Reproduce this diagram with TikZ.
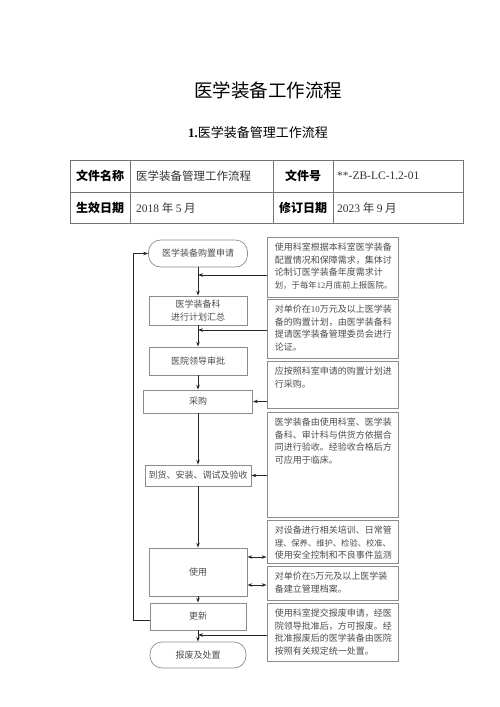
\documentclass[tikz,border=0pt]{standalone}
\usepackage{xcolor}
\usepackage{fontspec}
\usepackage{amsmath}
\setmainfont{Liberation Serif}
\newfontfamily\cjk{Noto Sans CJK SC}
\usetikzlibrary{arrows.meta,positioning}
\newcommand{\lat}[1]{{\rmfamily #1}}

\definecolor{boxline}{gray}{0.55}
\definecolor{tableline}{gray}{0.45}
\definecolor{flowtext}{gray}{0.3}

\tikzset{
  flowbox/.style={draw=boxline, line width=0.7pt, minimum width=98pt, inner sep=0pt,
    align=center, text=flowtext, font=\cjk\fontsize{9}{12.7}\selectfont},
  termbox/.style={flowbox, rounded corners=12pt},
  notebox/.style={draw=boxline, line width=0.8pt, minimum width=131pt, inner sep=0pt},
  notetxt/.style={anchor=north west, inner sep=0pt, xshift=8pt, yshift=-6pt,
    align=left, text=flowtext, font=\cjk\fontsize{9}{12.7}\selectfont},
  arr/.style={-{Stealth[length=5pt,width=3.5pt]}, line width=0.8pt, black!85},
  dblarr/.style={{Stealth[length=5pt,width=3.5pt]}-{Stealth[length=5pt,width=3.5pt]}, line width=0.8pt, black!85},
  headcell/.style={inner sep=0pt, font=\cjk\bfseries\fontsize{12}{14}\selectfont},
  cell/.style={inner sep=0pt, anchor=west, text=black!80, font=\cjk\fontsize{11.5}{14}\selectfont}
}

\begin{document}
\begin{tikzpicture}[x=1pt, y=-1pt]
\useasboundingbox (0,0) rectangle (500,707);

% titles
\node[font=\cjk\fontsize{18.5}{22}\selectfont] (title) at (268,90) {医学装备工作流程};
\node[font=\cjk\fontsize{13}{16}\selectfont] (subtitle) at (258,133) {\lat{\textbf{1.}}医学装备管理工作流程};

% table
\draw[tableline, line width=0.9pt] (70,160) rectangle (463,223);
\draw[tableline, line width=0.9pt] (70,192) -- (463,192);
\draw[tableline, line width=0.9pt] (130,160) -- (130,223) (273,160) -- (273,223) (333,160) -- (333,223);
\node[headcell] (name) at (100,176) {文件名称};
\node[cell] (namev) at (136,176) {医学装备管理工作流程};
\node[headcell] (docno) at (303,176) {文件号};
\node[cell] (docnov) at (337,176) {\lat{**-ZB-LC-1.2-01}};
\node[headcell] (valid) at (100,208) {生效日期};
\node[cell] (validv) at (136,208) {\lat{2018} 年 \lat{5} 月};
\node[headcell] (revise) at (303,208) {修订日期};
\node[cell] (revisev) at (337,208) {\lat{2023} 年 \lat{9} 月};

% flow
\node[termbox, minimum width=99pt, minimum height=27pt] (apply) at (198,253.5) {医学装备购置申请};
\node[flowbox, minimum height=29pt] (plan) at (198,310.5) {医学装备科\\进行计划汇总};
\node[flowbox, minimum height=28pt] (approve) at (198,361) {医院领导审批};
\node[flowbox, minimum width=109pt, minimum height=23pt] (buy) at (198,401.5) {采购};
\node[flowbox, minimum width=106pt, minimum height=21pt] (accept) at (198,475.5) {到货、安装、调试及验收};
\node[flowbox, minimum height=48pt] (use) at (198,572) {使用};
\node[flowbox, minimum width=96pt, minimum height=27pt] (renew) at (198,616.5) {更新};
\node[termbox, minimum width=96pt, minimum height=26pt] (scrap) at (198,655) {报废及处置};

\draw[arr] (apply) -- (plan);
\draw[arr] (plan) -- (approve);
\draw[arr] (approve) -- (buy);
\draw[arr] (buy) -- (accept);
\draw[arr] (accept) -- (use);
\draw[arr] (use) -- (renew);
\draw[arr] (renew) -- (scrap);
\draw[arr] ([yshift=-4pt]renew.west) -- ++(-16,0) |- (apply.west);

% notes
\node[notebox, minimum height=60pt] (n1) at (332.5,267) {};
\node[notetxt] (t1) at (n1.north west) {使用科室根据本科室医学装备\\配置情况和保障需求，集体讨\\论制订医学装备年度需求计\\{\fontsize{8.4}{12.7}\selectfont 划，于每年\lat{12}月底前上报医院。}};
\node[notebox, minimum height=59pt] (n2) at (332.5,328.5) {};
\node[notetxt] (t2) at (n2.north west) {对单价在\lat{10}万元及以上医学装\\备的购置计划，由医学装备科\\提请医学装备管理委员会进行\\论证。};
\node[notebox, minimum height=47pt] (n3) at (332.5,384.5) {};
\node[notetxt] (t3) at (n3.north west) {应按照科室申请的购置计划进\\行采购。};
\node[notebox, minimum height=105pt] (n4) at (332.5,464.5) {};
\node[notetxt] (t4) at (n4.north west) {医学装备由使用科室、医学装\\备科、审计科与供货方依据合\\同进行验收。经验收合格后方\\可应用于临床。};
\node[notebox, minimum height=43pt] (n5) at (332.5,541.5) {};
\node[notetxt] (t5) at (n5.north west) {对设备进行相关培训、日常管\\{\fontsize{8.3}{12.7}\selectfont 理、保养、维护、检验、校准、}\\使用安全控制和不良事件监测};
\node[notebox, minimum height=34pt] (n6) at (332.5,583) {};
\node[notetxt] (t6) at (n6.north west) {对单价在\lat{5}万元及以上医学装\\备建立管理档案。};
\node[notebox, minimum height=58pt] (n7) at (332.5,632) {};
\node[notetxt] (t7) at (n7.north west) {使用科室提交报废申请，经医\\院领导批准后，方可报废。经\\批准报废后的医学装备由医院\\按照有关规定统一处置。};

\draw[arr] ([yshift=-8pt]n1.west) -- ([yshift=-8pt]n1.west -| apply.south);
\draw[arr] ([yshift=-1.5pt]n2.west) -- ([yshift=-1.5pt]n2.west -| plan.south);
\draw[arr] (n3.west |- buy.east) -- (buy.east);
\draw[arr] (n4.west |- accept.east) -- (accept.east);
\draw[dblarr] ([yshift=15pt]use.east) -- ([yshift=15pt]use.east -| n5.west);
\draw[dblarr] ([yshift=-13pt]use.east) -- ([yshift=-13pt]use.east -| n6.west);
\draw[arr] ([yshift=-3pt]n7.west) -- ([yshift=-3pt]n7.west -| scrap.north);
\end{tikzpicture}
\end{document}
